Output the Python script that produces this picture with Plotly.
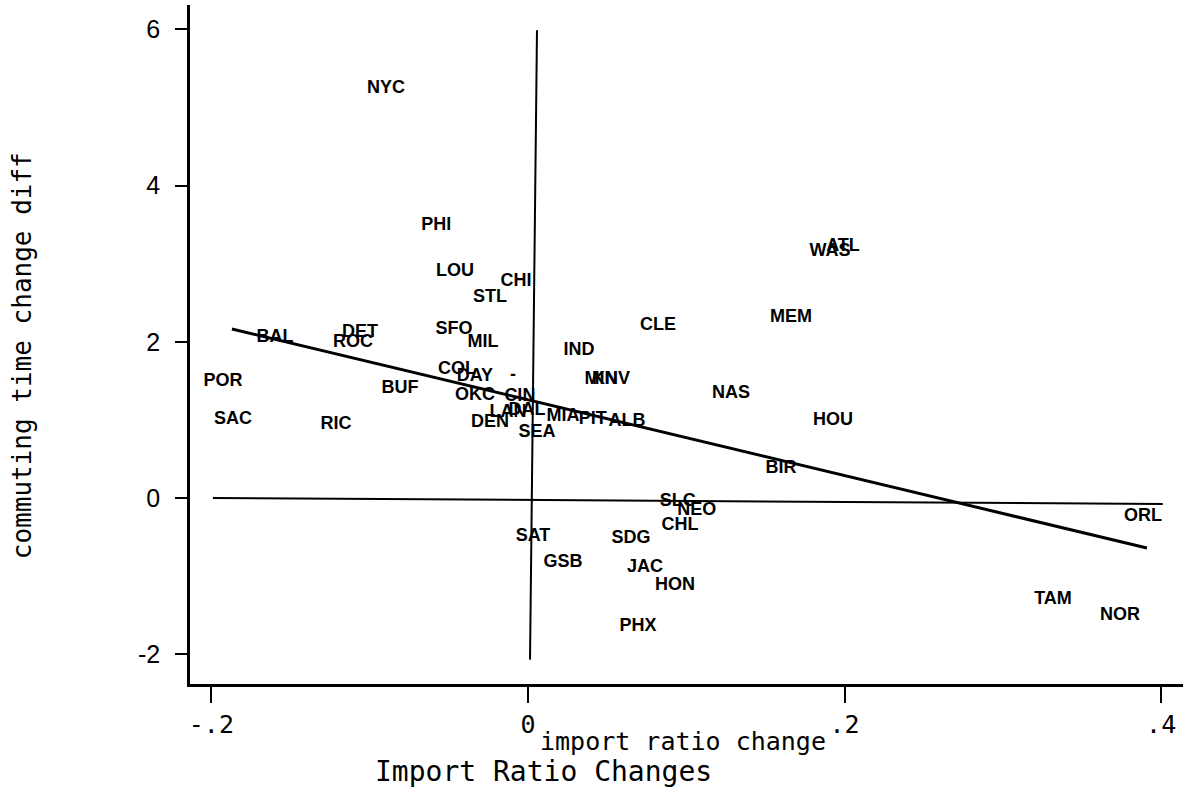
import plotly.graph_objects as go

# City labels, import ratio change (x) and commuting time change diff (y)
cities = ["NYC", "PHI", "LOU", "CHI", "STL", "SFO", "MIL", "DET", "ROC", "BAL",
          "POR", "SAC", "RIC", "BUF", "COL", "DAY", "-", "OKC", "CIN", "LAN",
          "DAL", "DEN", "SEA", "MIA", "PIT", "ALB", "IND", "MIN", "KNV", "CLE",
          "NAS", "MEM", "ATL", "WAS", "HOU", "BIR", "SLC", "NEO", "CHL", "ORL",
          "SAT", "GSB", "SDG", "JAC", "HON", "PHX", "TAM", "NOR"]
import_change = [-0.0897, -0.058, -0.0461, -0.0076, -0.0240, -0.0467, -0.0284, -0.1061, -0.1105, -0.1598,
                 -0.1927, -0.1864, -0.1213, -0.0809, -0.0448, -0.0335, -0.0095, -0.0335, -0.0051, -0.0126,
                 -0.0006, -0.0240, 0.0057, 0.0221, 0.0410, 0.0625, 0.0322, 0.0461, 0.0524, 0.0821,
                 0.1282, 0.1661, 0.1990, 0.1908, 0.1927, 0.1598, 0.0947, 0.1067, 0.0960, 0.3885,
                 0.0032, 0.0221, 0.0651, 0.0739, 0.0929, 0.0695, 0.3317, 0.3740]
commute_diff = [5.237, 3.483, 2.894, 2.766, 2.561, 2.151, 1.985, 2.113, 1.997, 2.049,
                1.485, 0.999, 0.935, 1.408, 1.639, 1.549, 1.562, 1.306, 1.293, 1.088,
                1.126, 0.960, 0.832, 1.037, 0.999, 0.973, 1.882, 1.511, 1.511, 2.202,
                1.344, 2.305, 3.214, 3.150, 0.986, 0.371, -0.051, -0.166, -0.358, -0.243,
                -0.487, -0.820, -0.525, -0.896, -1.126, -1.652, -1.306, -1.511]

# Fitted regression line endpoints
fit_x = [-0.187, 0.391]
fit_y = [2.164, -0.640]

# Reference lines (as drawn in the scan)
hline_x = [-0.199, 0.401]
hline_y = [0.0, -0.077]
vline_x = [0.0057, 0.0013]
vline_y = [5.99, -2.07]

x_ticks = [-0.2, 0, 0.2, 0.4]
x_tick_labels = ["-.2", "0", ".2", ".4"]
y_ticks = [-2, 0, 2, 4, 6]
y_tick_labels = ["-2", "0", "2", "4", "6"]

fig = go.Figure()
fig.add_trace(go.Scatter(x=hline_x, y=hline_y, mode="lines",
                         line=dict(color="black", width=2), hoverinfo="skip"))
fig.add_trace(go.Scatter(x=vline_x, y=vline_y, mode="lines",
                         line=dict(color="black", width=2), hoverinfo="skip"))
fig.add_trace(go.Scatter(x=fit_x, y=fit_y, mode="lines",
                         line=dict(color="black", width=3), hoverinfo="skip"))
fig.add_trace(go.Scatter(x=import_change, y=commute_diff, mode="text", text=cities,
                         textposition="middle center",
                         textfont=dict(family="Liberation Sans", size=18, color="black", weight="bold")))

fig.update_layout(
    width=1191, height=796,
    margin=dict(l=190, r=8, t=5, b=112),
    paper_bgcolor="white", plot_bgcolor="white",
    showlegend=False,
    xaxis=dict(range=[-0.2135, 0.4138], tickvals=x_ticks, ticktext=x_tick_labels,
               showgrid=False, zeroline=False, showline=True, linecolor="black", linewidth=2.5,
               ticks="outside", ticklen=16, tickwidth=2, tickcolor="black",
               tickfont=dict(family="DejaVu Sans Mono", size=25, color="black")),
    yaxis=dict(range=[-2.382, 6.312], tickvals=y_ticks, ticktext=y_tick_labels,
               showgrid=False, zeroline=False, showline=True, linecolor="black", linewidth=2.5,
               ticks="outside", ticklen=12, tickwidth=2, tickcolor="black", ticklabelstandoff=10,
               tickfont=dict(family="Liberation Sans", size=25, color="black")),
    annotations=[
        dict(text="import ratio change", xref="paper", yref="paper", x=0.4965, y=-0.084,
             xanchor="center", yanchor="middle", showarrow=False,
             font=dict(family="DejaVu Sans Mono", size=25, color="black")),
        dict(text="Import Ratio Changes", xref="paper", yref="paper", x=0.3555, y=-0.1296,
             xanchor="center", yanchor="middle", showarrow=False,
             font=dict(family="DejaVu Sans Mono", size=28, color="black")),
        dict(text="commuting time change diff", xref="paper", yref="paper", x=-0.169, y=0.483,
             xanchor="center", yanchor="middle", showarrow=False, textangle=-90,
             font=dict(family="DejaVu Sans Mono", size=26, color="black")),
    ],
)

fig.write_html("out.html")
